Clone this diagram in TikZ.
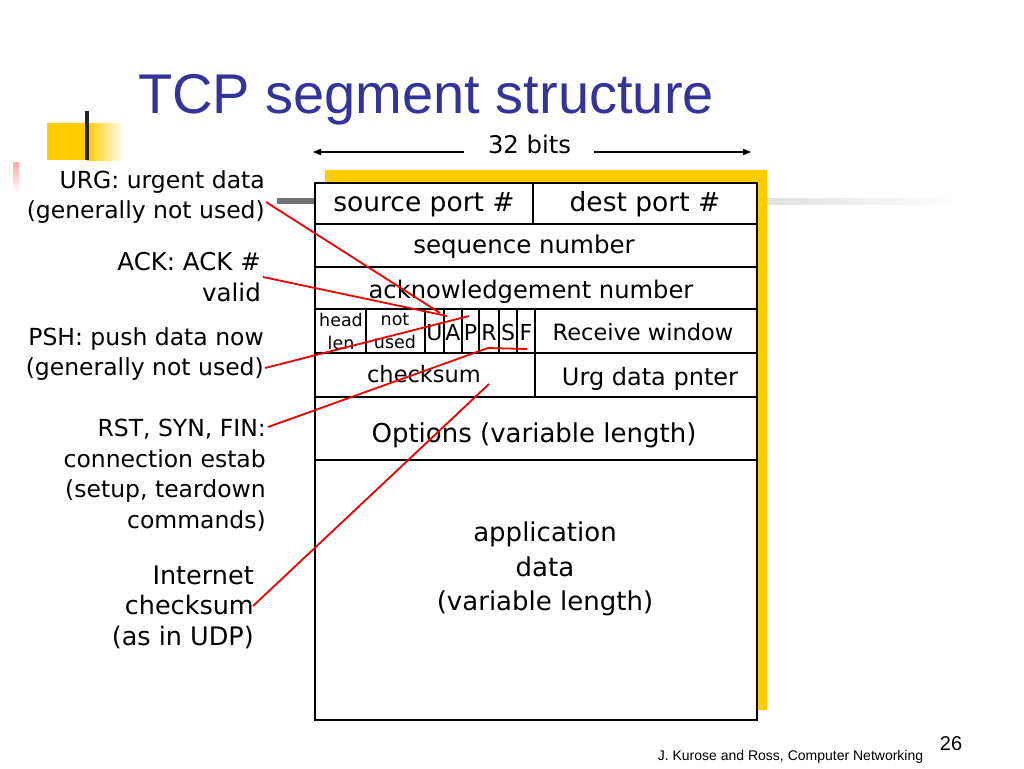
\documentclass[tikz,border=0pt]{standalone}
\usepackage{fontspec}
\setmainfont{DejaVu Sans}
\newfontfamily\titlefont{Liberation Sans}
\usetikzlibrary{arrows.meta}
\definecolor{ttl}{RGB}{51,51,153}
\definecolor{gold}{RGB}{255,204,0}
\definecolor{redl}{RGB}{236,0,0}
\newcommand{\fs}[1]{\fontsize{#1}{30.5}\selectfont}
\begin{document}
\begin{tikzpicture}[x=1pt,y=-1pt,
  lbl/.style={align=right, anchor=east, inner sep=0pt, font=\fs{23.5}},
  txt/.style={anchor=base, inner sep=0pt},
  ptr/.style={draw=redl, line width=1.8pt},
  grid/.style={draw=black, line width=1.8pt},
  arr/.style={draw=black, line width=1.4pt, -{Latex[length=9pt,width=7pt]}}]

\useasboundingbox[fill=white] (0,0) rectangle (1024,768);

% decorations
\fill[gold] (47,123) rectangle (87,160);
\shade[left color=gold, right color=white] (87,123) rectangle (124,160);
\fill[black!85] (85,111) rectangle (89,160);
\shade[top color=red!35, bottom color=white] (13,162) rectangle (19,192);
\fill[black!55] (277,198) rectangle (317,204);
\shade[left color=black!12, right color=white] (767,198) rectangle (960,204);

% title
\node[txt, font=\titlefont\fontsize{56}{60}\selectfont, text=ttl] (title) at (426,113) {TCP segment structure};

% 32 bits
\node[txt, font=\fs{24.3}] (bits) at (529.5,153) {32 bits};
\coordinate (bl) at (312,152);
\coordinate (br) at (752,152);
\draw[arr] ([xshift=-24pt]bits.west |- bl) -- (bl);
\draw[arr] ([xshift=23pt]bits.east |- br) -- (br);

% segment box
\fill[gold] (325,170) rectangle (767,710);
\draw[grid, fill=white] (315,183) rectangle (757,720);
\foreach \yy in {224,267,309,353,397,460} \draw[grid] (315,\yy) -- (757,\yy);
\draw[grid] (533,183) -- (533,224);
\foreach \xx in {366,425,444,462,479,499,517,535} \draw[grid] (\xx,309) -- (\xx,353);
\draw[grid] (535,353) -- (535,397);

% field texts
\node[txt, font=\fs{26.5}] (src) at (424,211) {source port \#};
\node[txt, font=\fs{26.5}] (dst) at (645,211) {dest port \#};
\node[txt, font=\fs{24.5}] (seq) at (524,253) {sequence number};
\node[txt, font=\fs{24.2}] (ack) at (531,298) {acknowledgement number};
\node[align=center, inner sep=0pt, font=\fontsize{17.5}{23}\selectfont] (hl) at (341,331) {head\\len};
\node[align=center, inner sep=0pt, font=\fontsize{17.5}{23}\selectfont] (nu) at (395,331) {not\\used};
\node[txt, font=\fs{22}] (fu) at (434.5,340) {U};
\node[txt, font=\fs{22}] (fa) at (453,340) {A};
\node[txt, font=\fs{22}] (fp) at (470.5,340) {P};
\node[txt, font=\fs{22}] (fr) at (489,340) {R};
\node[txt, font=\fs{22}] (fs) at (508,340) {S};
\node[txt, font=\fs{22}] (ff) at (526,340) {F};
\node[txt, font=\fs{22.5}] (rw) at (643,340) {Receive window};
\node[txt, font=\fs{22.5}] (ck) at (424,382) {checksum};
\node[txt, font=\fs{24}] (up) at (650,385) {Urg data pnter};
\node[txt, font=\fs{26}] (opt) at (534,442) {Options (variable length)};
\node[align=center, inner sep=0pt, font=\fontsize{26}{34.5}\selectfont] (app) at (545,569) {application\\data\\(variable length)};

% left labels
\node[lbl] (urg) at (265,197) {URG: urgent data\\(generally not used)};
\node[lbl, font=\fs{24.5}] (ackl) at (261,277) {ACK: ACK \#\\valid};
\node[lbl] (psh) at (264,354) {PSH: push data now\\(generally not used)};
\node[lbl] (rst) at (266,475.5) {RST, SYN, FIN:\\connection estab\\(setup, teardown\\commands)};
\node[lbl, font=\fs{25.5}] (inet) at (254,607) {Internet\\checksum\\(as in UDP)};

% pointers
\coordinate (urgS) at (266,202);
\coordinate (urgE) at (440,313);
\coordinate (ackS) at (263,277);
\coordinate (ackE) at (447,316);
\coordinate (pshS) at (265,368);
\coordinate (pshE) at (469,316);
\coordinate (rstS) at (268,427);
\coordinate (rstM) at (488,348);
\coordinate (rstE) at (527,349);
\coordinate (inS) at (253,606);
\coordinate (inE) at (489,384);
\draw[ptr] (urgS) -- (urgE);
\draw[ptr] (ackS) -- (ackE);
\draw[ptr] (pshS) -- (pshE);
\draw[ptr] (rstS) -- (rstM) -- (rstE);
\draw[ptr] (inS) -- (inE);

% footer
\node[txt, font=\titlefont\fontsize{14}{16}\selectfont] (foot) at (790.5,760) {J. Kurose and Ross, Computer Networking};
\node[txt, font=\titlefont\fontsize{20}{22}\selectfont] (pg) at (951,750) {26};
\end{tikzpicture}
\end{document}
